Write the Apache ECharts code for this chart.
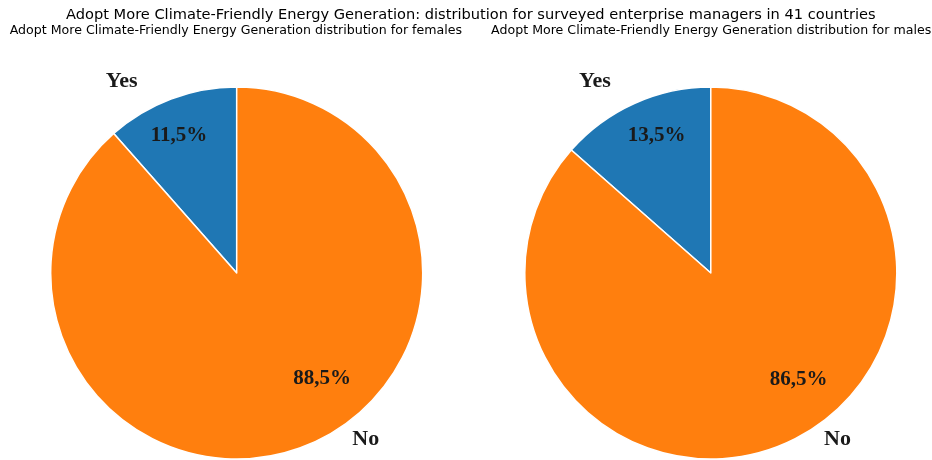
<!DOCTYPE html>
<html>
<head>
<meta charset="utf-8">
<script src="https://cdn.jsdelivr.net/npm/echarts@6/dist/echarts.min.js"></script>
<style>html,body{margin:0;padding:0;background:#fff}#c{width:932px;height:460px}</style>
</head>
<body>
<div id="c"></div>
<script>
const mainTitle = 'Adopt More Climate-Friendly Energy Generation: distribution for surveyed enterprise managers in 41 countries';
const subTitles = ['Adopt More Climate-Friendly Energy Generation distribution for females', 'Adopt More Climate-Friendly Energy Generation distribution for males'];
const categories = ['Yes', 'No'];
const femaleValues = [11.5, 88.5];
const maleValues = [13.5, 86.5];
const colors = ['#1f77b4', '#ff7f0e'];

const centers = [[236.7, 273], [710.8, 273]];
const R = 186;
// label offsets relative to pie centre (layout, not data)
const pctOffsets = [[[-57.7, -137.5], [85.3, 106]], [[-54.3, -137], [87.9, 107]]];
const nameOffsets = [[[-115, -191.5], [129, 166]], [[-115.8, -191.5], [126.7, 166.5]]];

const chart = echarts.init(document.getElementById('c'), null, {renderer: 'canvas'});
const fmt = v => v.toFixed(1).replace('.', ',') + '%';
const series = [];
[femaleValues, maleValues].forEach((vals, p) => {
  series.push({
    type: 'pie', center: centers[p], radius: R, startAngle: 90, clockwise: false,
    avoidLabelOverlap: false, silent: true, animation: false,
    itemStyle: {borderColor: '#fff', borderWidth: 1.5},
    labelLine: {show: false},
    data: categories.map((c, i) => ({
      name: c, value: vals[i], itemStyle: {color: colors[i]},
      label: {show: true, position: 'center', offset: pctOffsets[p][i], formatter: fmt(vals[i]),
        fontFamily: 'Liberation Serif', fontWeight: 'bold', fontSize: 21, color: '#1a1a1a'}
    }))
  });
  series.push({
    type: 'pie', center: centers[p], radius: R, startAngle: 90, clockwise: false,
    avoidLabelOverlap: false, silent: true, animation: false, z: 5,
    itemStyle: {color: 'rgba(0,0,0,0)', borderWidth: 0},
    labelLine: {show: false},
    data: categories.map((c, i) => ({
      name: c, value: vals[i],
      label: {show: true, position: 'center', offset: nameOffsets[p][i], formatter: c,
        fontFamily: 'Liberation Serif', fontWeight: 'bold', fontSize: 22, color: '#1a1a1a'}
    }))
  });
});

chart.setOption({
  backgroundColor: '#fff',
  title: [
    {text: mainTitle, left: 465.8, top: 3, textAlign: 'center', textStyle: {fontFamily: 'DejaVu Sans', fontSize: 14.6, fontWeight: 'normal', color: '#000'}},
    {text: subTitles[0], left: 230.9, top: 19, textAlign: 'center', textStyle: {fontFamily: 'DejaVu Sans', fontSize: 12.6, fontWeight: 'normal', color: '#000'}},
    {text: subTitles[1], left: 706.2, top: 19, textAlign: 'center', textStyle: {fontFamily: 'DejaVu Sans', fontSize: 12.6, fontWeight: 'normal', color: '#000'}}
  ],
  series: series
});
</script>
</body>
</html>
